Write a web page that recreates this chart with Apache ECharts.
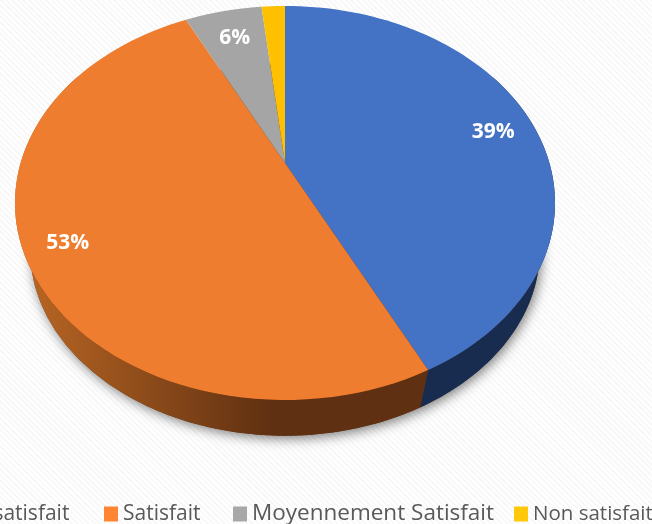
<!DOCTYPE html>
<html>
<head>
<meta charset="utf-8">
<script src="https://cdn.jsdelivr.net/npm/echarts@6/dist/echarts.min.js"></script>
<style>
  html, body { margin: 0; padding: 0; }
  body {
    width: 652px; height: 524px; overflow: hidden;
    background: repeating-linear-gradient(45deg, #ffffff 0 2px, #f8f8f8 2px 4px);
  }
  #main { width: 652px; height: 524px; }
</style>
</head>
<body>
<div id="main"></div>
<script>
// 图例文字
const categories = ["Très satisfait", "Satisfait", "Moyennement Satisfait", "Non satisfait"];
// 图上实际画出的扇区占比（从图上量的，和标注的百分比不完全一致）
const shares = [42.7, 50, 5.6, 1.7];
// 图上印的百分比
const percentLabels = ["39%", "53%", "6%", ""];
const colors = ["#4472C4", "#EF7D2F", "#A5A5A5", "#FFC000"];
const legendColors = ["#4472C4", "#FF8533", "#A8A8A8", "#FFC90A"];
const legendLefts = [-73, 104, 233, 514];
const legendFontSizes = [21, 21, 22.5, 20.5];

// 透视饼图的几何参数
const cx = 285, apexY = 163;
const k = 0.203, a = 264.4, b = 188.9;
// 底面相对顶面的缩放
const baseScale = 0.944, baseApexY = 212;

function topPoint(deg, r) {
  const t = deg * Math.PI / 180;
  const w = 1 + k * Math.cos(t);
  return [cx + r * a * Math.sin(t) / w, apexY - r * b * Math.cos(t) / w];
}
function basePoint(deg) {
  const p = topPoint(deg, 1);
  return [cx + baseScale * (p[0] - cx), baseApexY + baseScale * (p[1] - apexY)];
}
function arc(fn, from, to) {
  const pts = [];
  for (let i = 0; i <= 80; i++) pts.push(fn(from + (to - from) * i / 80));
  return pts;
}

// 累计角度
const starts = [];
let sum = 0;
const total = shares.reduce((s, v) => s + v, 0);
for (const v of shares) {
  starts.push(sum / total * 360);
  sum += v;
}

// 侧面只画前面可见的部分
function wall(index, from, to) {
  const fill = index === 0
    ? "#172C4F"
    : {
        type: "linear", x: 16, y: 0, x2: 429, y2: 0, global: true,
        colorStops: [
          { offset: 0, color: "#BC6824" },
          { offset: 0.62, color: "#5F3011" },
          { offset: 1, color: "#5F3011" },
        ],
      };
  return {
    type: "polygon",
    shape: { points: arc((d) => topPoint(d, 1), from, to).concat(arc(basePoint, to, from)) },
    style: { fill: fill },
  };
}

function sliceSeries(index) {
  return {
    type: "custom",
    name: categories[index],
    coordinateSystem: "none",
    silent: true,
    itemStyle: { color: colors[index] },
    data: [shares[index]],
    renderItem(params, api) {
      const from = starts[index];
      const to = from + (api.value(0) / total) * 360;
      const children = [];
      if (index === 0) children.push(wall(0, 60, to));
      if (index === 1) children.push(wall(1, from, 300));
      children.push({
        type: "polygon",
        shape: { points: [topPoint(from, 0)].concat(arc((d) => topPoint(d, 1), from, to)) },
        style: { fill: colors[index] },
      });
      if (percentLabels[index]) {
        const p = topPoint((from + to) / 2, 0.84);
        children.push({
          type: "text",
          z2: 10,
          style: {
            x: p[0] + 1.5, y: p[1] + 3, text: percentLabels[index],
            fill: "#fff", align: "center", verticalAlign: "middle",
            font: 'bold 21px "Open Sans"',
          },
        });
      }
      return { type: "group", children: children };
    },
  };
}

const chart = echarts.init(document.getElementById("main"));
chart.setOption({
  animation: false,
  backgroundColor: "transparent",
  legend: categories.map((name, i) => ({
    left: legendLefts[i],
    top: 499,
    padding: 0,
    itemWidth: 14,
    itemHeight: 15,
    icon: "rect",
    selectedMode: false,
    textStyle: { fontFamily: "Open Sans", fontSize: legendFontSizes[i], lineHeight: 30, height: 30, color: "#595959" },
    data: [{ name: name, itemStyle: { color: legendColors[i] } }],
  })),
  series: [
    {
      // 底部阴影
      type: "custom",
      name: "base",
      coordinateSystem: "none",
      silent: true,
      data: [0],
      renderItem() {
        return {
          type: "polygon",
          shape: { points: arc(basePoint, 0, 360) },
          style: {
            fill: "#5F3011",
            shadowBlur: 12,
            shadowOffsetX: 2,
            shadowOffsetY: 3,
            shadowColor: "rgba(0,0,0,0.5)",
          },
        };
      },
    },
  ].concat(categories.map((c, i) => sliceSeries(i))),
});
</script>
</body>
</html>
